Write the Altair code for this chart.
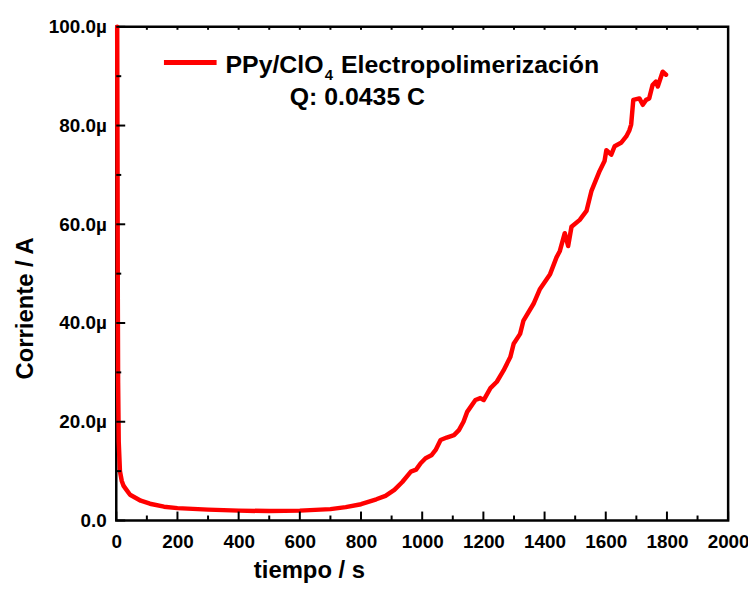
import altair as alt
import pandas as pd

# ---- data ----
time_s = [3, 4, 5, 6, 8, 12, 18, 24, 31, 45, 80, 110, 156, 200, 300, 400, 500, 600,
          700, 750, 800, 850, 880, 909, 935, 963, 980, 995, 1011, 1030, 1044, 1060,
          1080, 1104, 1120, 1135, 1147, 1174, 1190, 1201, 1223, 1244, 1266, 1288, 1299,
          1320, 1331, 1364, 1385, 1418, 1439, 1450, 1466, 1477, 1488, 1515, 1537, 1553,
          1580, 1596, 1602, 1618, 1629, 1650, 1667, 1677, 1683, 1690, 1710, 1721, 1732,
          1742, 1753, 1764, 1770, 1786, 1797]
current_uA = [100, 75, 45, 28, 16, 10, 8, 7, 6.4, 5.2, 4.0, 3.4, 2.8, 2.5, 2.2, 2.0, 1.9, 2.0,
              2.3, 2.7, 3.3, 4.3, 5.0, 6.2, 7.8, 9.9, 10.3, 11.6, 12.6, 13.2, 14.3, 16.3,
              16.8, 17.3, 18.3, 20.0, 22.0, 24.4, 24.8, 24.4, 26.8, 28.1, 30.4, 33.1, 35.8,
              37.8, 40.5, 43.9, 46.9, 49.9, 53.3, 54.6, 58.2, 55.6, 59.5, 60.9, 62.7, 66.7,
              70.8, 72.8, 75.0, 74.1, 75.8, 76.5, 77.8, 79.0, 80.2, 85.2, 85.5, 84.2, 85.2,
              85.5, 88.2, 88.9, 87.9, 90.9, 90.3]

x_major = list(range(0, 2001, 200))
x_minor = list(range(100, 2000, 200))
x_top = list(range(100, 2000, 100))
y_major = list(range(0, 101, 20))
y_minor = list(range(10, 100, 20))

legend_parts = ["PPy/ClO", "4", "Electropolimerización"]
charge_text = "Q: 0.0435 C"
x_title = "tiempo / s"
y_title = "Corriente / A"

# ---- style ----
W, H = 616, 497
FONT = "Liberation Sans"
RED = "#ff0000"

xscale = alt.Scale(domain=[0, 2000], nice=False, zero=False)
yscale = alt.Scale(domain=[0, 100], nice=False, zero=False)

xaxis = alt.Axis(
    values=x_major, title=x_title, format="d", ticks=False, tickSize=0, domain=False, grid=False,
    labelFont=FONT, labelFontSize=19, labelFontWeight="bold", labelColor="black",
    labelPadding=12, labelFlush=False,
    titleFont=FONT, titleFontSize=24, titleFontWeight="bold", titleColor="black",
    titleX=194, titleY=57, titleBaseline="alphabetic", titleAlign="center")
yaxis = alt.Axis(
    values=y_major, title=y_title, ticks=False, tickSize=0, domain=False, grid=False,
    labelExpr="datum.value == 0 ? '0.0' : format(datum.value, '.1f') + 'µ'",
    labelFont=FONT, labelFontSize=19, labelFontWeight="bold", labelColor="black",
    labelPadding=10, labelFlush=False,
    titleFont=FONT, titleFontSize=24, titleFontWeight="bold", titleColor="black",
    titleX=-84, titleY=283, titleBaseline="alphabetic", titleAlign="center")

X = alt.X("t:Q", scale=xscale, axis=xaxis)
Y = alt.Y("i:Q", scale=yscale, axis=yaxis)

df = pd.DataFrame({"t": time_s, "i": current_uA})

line = alt.Chart(df).mark_line(
    color=RED, strokeWidth=4.5, strokeJoin="round", strokeCap="round"
).encode(x=X, y=Y)


def xticks(vals, y0, y1):
    return alt.Chart(pd.DataFrame({"t": vals})).mark_rule(color="black", strokeWidth=2).encode(
        x=X, y=alt.value(y0), y2=alt.value(y1))


def yticks(vals, x0, x1):
    return alt.Chart(pd.DataFrame({"i": vals})).mark_rule(color="black", strokeWidth=2).encode(
        y=Y, x=alt.value(x0), x2=alt.value(x1))


def label(txt, x, y, size):
    return alt.Chart(pd.DataFrame({"txt": [txt]})).mark_text(
        align="left", baseline="alphabetic", font=FONT, fontSize=size,
        fontWeight="bold", color="black"
    ).encode(x=alt.value(x), y=alt.value(y), text="txt:N")


legend_line = alt.Chart(pd.DataFrame({"a": [0]})).mark_rule(
    color=RED, strokeWidth=5
).encode(x=alt.value(48), x2=alt.value(101), y=alt.value(36))

chart = alt.layer(
    line,
    xticks(x_major, H, H - 9),
    xticks(x_minor, H, H - 5),
    xticks(x_top, 0, 3),
    yticks(y_major, 0, 9),
    yticks(y_minor, 0, 5),
    legend_line,
    label(legend_parts[0], 110, 46.7, 25),
    label(legend_parts[1], 210, 53.3, 15),
    label(legend_parts[2], 226.3, 46.7, 25),
    label(charge_text, 174.7, 79, 25),
).properties(
    width=W, height=H,
    autosize=alt.AutoSizeParams(type="none"),
    padding={"left": 109, "top": 17, "right": 20, "bottom": 62},
).configure_view(stroke="black", strokeWidth=2.5)

chart.save("out.html", embed_options={"renderer": "svg", "actions": False})
